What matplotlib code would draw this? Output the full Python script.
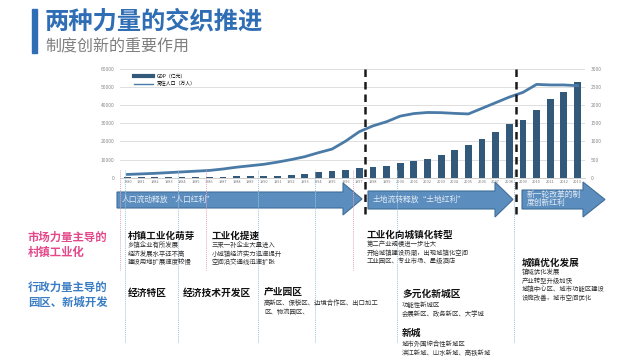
import matplotlib
matplotlib.use("Agg")
from matplotlib import pyplot as plt
from matplotlib.patches import Polygon, Rectangle
from matplotlib.lines import Line2D
import numpy as np

plt.rcParams["font.family"] = ["Noto Sans CJK SC", "DejaVu Sans"]

# Data
years = list(range(1980, 2014))
gdp = [200, 230, 270, 300, 370, 450, 520, 620, 750, 850,
       1000, 1150, 1500, 2200, 2900, 3600, 4230, 5150, 5700, 6440,
       8100, 9380, 10500, 12700, 15100, 17850, 21160, 25200, 29440, 31650,
       37350, 43400, 47470, 52600]
pop = [90, 105, 120, 140, 160, 180, 200, 240, 290, 330,
       370, 430, 500, 580, 690, 790, 1010, 1270, 1430, 1545,
       1700, 1770, 1800, 1795, 1775, 1760, 1915, 2070, 2225, 2355,
       2575, 2560, 2560, 2540]
gdp_label = "GDP（亿元）"
pop_label = "常住人口（万人）"

title = "两种力量的交织推进"
subtitle = "制度创新的重要作用"
arrow_texts = ["人口流动释放“人口红利”", "土地流转释放“土地红利”", "新一轮改革的制\n度创新红利"]
row_labels = ["市场力量主导的\n村镇工业化", "行政力量主导的\n园区、新城开发"]

market_blocks = [
    ("村镇工业化萌芽", ["乡镇企业有所发展", "经济发展水平还不高", "建设用地扩展速度较慢"]),
    ("工业化提速", ["三来一补企业大量进入", "小城镇经济实力迅速提升", "空间沿交通线迅速扩张"]),
    ("工业化向城镇化转型", ["第二产业规模进一步壮大", "开始城镇建设热潮，出现城镇化空间", "工业园区、专业市场、星级酒店"]),
    ("城镇优化发展", ["镇域优化发展", "产业转型升级加快", "城镇中心区、城市功能区建设", "设施改善，城市空间优化"]),
]
admin_blocks = [
    ("经济特区", []),
    ("经济技术开发区", []),
    ("产业园区", ["高新区、保税区、边境合作区、出口加工", "区、物流园区、"]),
    ("多元化新城区", ["功能性新城区", "会展新区、政务新区、大学城"]),
    ("新城", ["城市外围综合性新城区", "滨江新城、山水新城、高铁新城"]),
]

blue = "#2F6EB5"
bar_color = "#33597A"
line_color = "#4A7BA7"
arrow_fc = "#5B8DBE"
arrow_ec = "#3F6E99"

fig = plt.figure(figsize=(6.4, 3.64), dpi=100)
fig.patch.set_facecolor("white")

# chart
ax = fig.add_axes([120 / 640, 1 - 177.7 / 364, 465 / 640, 108.7 / 364])
ax.patch.set_alpha(0)
x = np.arange(len(years))
ax.bar(x, gdp, width=0.5, color=bar_color, zorder=2)
ax.set_xlim(-0.55, 33.55)
ax.set_ylim(0, 60000)
ax.set_yticks(range(0, 60001, 10000))
ax.set_xticks(x)
ax.set_xticklabels(years, fontsize=2.8, color="#777777")
ax.tick_params(axis="y", labelsize=3.5, labelcolor="#888888", length=0, pad=4)
ax.tick_params(axis="x", length=0, pad=2)
ax.grid(axis="y", color="#D9D9D9", lw=0.6)
ax.set_axisbelow(True)
for s in ["top", "left", "right"]:
    ax.spines[s].set_visible(False)
ax.spines["bottom"].set_color("#C8C8C8")
ax.spines["bottom"].set_linewidth(0.6)

ax2 = ax.twinx()
ax2.plot(x, pop, color=line_color, lw=2, zorder=3)
ax2.set_ylim(0, 3000)
ax2.set_yticks(range(0, 3001, 500))
ax2.tick_params(axis="y", labelsize=3.5, labelcolor="#888888", length=0, pad=4)
for s in ax2.spines.values():
    s.set_visible(False)

handles = [Line2D([], [], color=bar_color, lw=3), Line2D([], [], color=line_color, lw=1)]
ax2.legend(handles, [gdp_label, pop_label], loc="upper left", bbox_to_anchor=(0.02, 1.0),
           frameon=False, fontsize=3.5, handlelength=4, labelspacing=0.6)

# foreground layer in pixel coordinates
fg = fig.add_axes([0, 0, 1, 1])
fg.set_xlim(0, 640)
fg.set_ylim(364, 0)
fg.axis("off")
fg.patch.set_alpha(0)

# title
fg.add_patch(Rectangle((32, 9), 5, 44, color=blue))
fg.text(45, 21, title, fontsize=17.5, weight="bold", color=blue, va="center")
fg.text(45, 47, subtitle, fontsize=11.5, color="#7F7F7F", va="center")

# separator lines
for xp in [120, 206, 353]:
    fg.plot([xp, xp], [170, 270], color="#E3A6C2", lw=0.7, ls=(0, (1, 1)))
for xp in [125, 178, 258, 315, 397, 514]:
    fg.plot([xp, xp], [170, 343], color="#9CC6DA", lw=0.7, ls=(0, (1, 1)))

# dashed period lines
for xp in [365, 516]:
    fg.plot([xp, xp], [69, 218], color="#1A1A1A", lw=1.8, ls=(0, (3, 2)))

# arrows
arrow_geo = [(117, 343, 362, 192, 208, 183, 215),
             (368, 495, 513, 191, 209, 182, 217),
             (522, 583, 605, 190, 209, 182, 217)]
for (x0, xb, xt, bt, bb, ht, hb) in arrow_geo:
    pts = [(x0, bt), (xb, bt), (xb, ht), (xt, (ht + hb) / 2), (xb, hb), (xb, bb), (x0, bb)]
    fg.add_patch(Polygon(pts, closed=True, fc=arrow_fc, ec=arrow_ec, lw=0.8))
fg.text(122, 200, arrow_texts[0], fontsize=5.6, color="#E4ECF5", va="center")
fg.text(373, 200, arrow_texts[1], fontsize=5.6, color="#E4ECF5", va="center")
fg.text(527, 199, arrow_texts[2], fontsize=5.6, color="#E4ECF5", va="center", linespacing=1.1)

# row labels
fg.text(28, 245, row_labels[0], fontsize=8.2, weight="bold", color="#E4488A", va="center", linespacing=1.15)
fg.text(28, 295, row_labels[1], fontsize=8.2, weight="bold", color="#3B7DC4", va="center", linespacing=1.15)

# market row blocks
market_pos = [(128, 236), (212, 236), (367, 235), (522, 263)]
for (head, lines), (xp, yp) in zip(market_blocks, market_pos):
    fg.text(xp, yp, head, fontsize=6.9, weight="bold", color="#111111", va="center")
    for i, ln in enumerate(lines):
        fg.text(xp, yp + 9 + i * 8.7, ln, fontsize=4.6, color="#333333", va="center")

# administrative row blocks
admin_pos = [(128, 293), (183, 293), (264, 292), (402, 294), (402, 333)]
for (head, lines), (xp, yp) in zip(admin_blocks, admin_pos):
    fg.text(xp, yp, head, fontsize=7, weight="bold", color="#111111", va="center")
    for i, ln in enumerate(lines):
        fg.text(xp, yp + 11 + i * 8.7, ln, fontsize=4.6, color="#333333", va="center")

fig.savefig("out.png", dpi=100)
